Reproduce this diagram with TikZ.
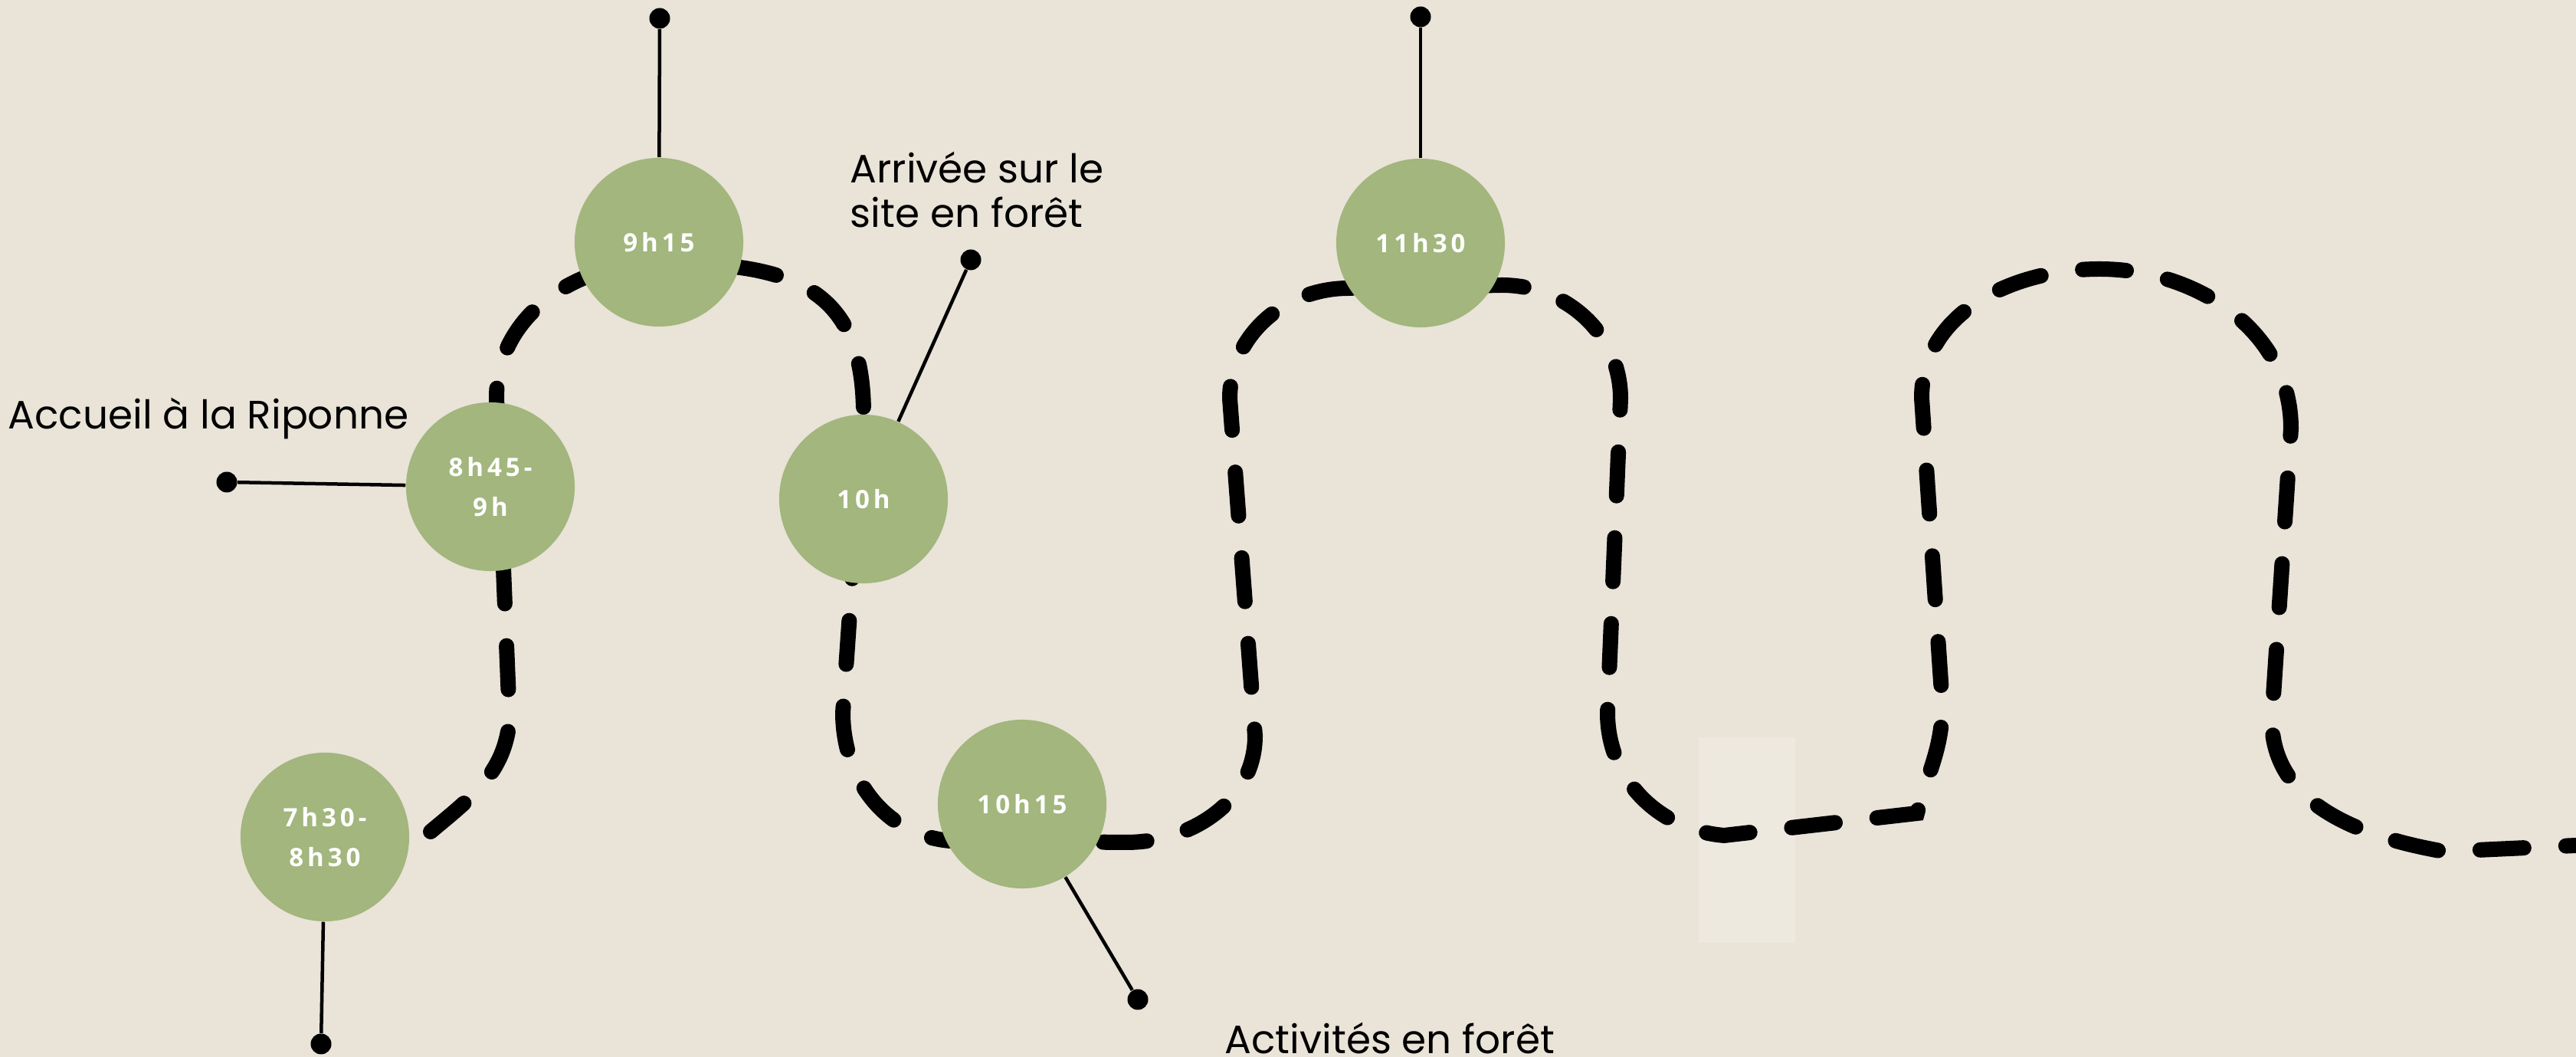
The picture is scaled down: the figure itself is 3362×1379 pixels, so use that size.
\documentclass[tikz,border=0pt]{standalone}
\usepackage{fontspec}
\setmainfont{Poppins}
\newfontfamily\heure[LetterSpace=15]{Open Sans}
\usepackage{tikz}
\usetikzlibrary{shapes,arrows,positioning}
\definecolor{papier}{HTML}{E9E3D8}
\definecolor{sauge}{HTML}{A2B67D}
\definecolor{tache}{HTML}{EEE9DF}
\tikzstyle{halte}=[circle, fill=sauge, minimum size=2.2cm, inner sep=0pt, text=white, font=\heure\bfseries\fontsize{9.4}{15}\selectfont, align=center]
\tikzstyle{bullet}=[circle, fill=black, minimum size=0.27cm, inner sep=0pt]
\tikzstyle{legende}=[font=\fontsize{14.7}{16.5}\selectfont, text=black, inner sep=0pt, align=left]
\tikzstyle{trail}=[line width=0.2cm, line cap=round, dash pattern=on 0.57cm off 0.55cm]
\tikzstyle{lien}=[line width=0.045cm]

\begin{document}
\begin{tikzpicture}[x=0.01cm, y=0.01cm]
    \fill[papier] (0,0) rectangle (3362,1379);
    \useasboundingbox (0,0) rectangle (3362,1379);
    \fill[tache] (2217,149) rectangle (2343,417);

    \draw[trail] (562,294) to[out=40,in=-95] (665,440) -- (648,860)
        to[out=90,in=180] (860,1036) to[out=0,in=90,looseness=1.3] (1127,839)
        -- (1100,449) to[out=-90,in=175] (1240,282) -- (1470,280)
        to[out=0,in=-90] (1638,419) -- (1605,859)
        to[out=90,in=180] (1760,1003) -- (1960,1007)
        to[out=0,in=90] (2115,859) -- (2098,449)
        to[out=-90,in=175] (2250,289) -- (2502,318)
        to[out=75,in=-90] (2535,460) -- (2508,860)
        to[out=90,in=180] (2740,1028) to[out=0,in=90] (2990,820)
        -- (2965,440) to[out=-90,in=170] (3190,268) -- (3362,276);

    \node (t730) [halte] at (424,287) {7h30-\\8h30};
    \node (t845) [halte] at (640,744) {8h45-\\9h};
    \node (t915) [halte] at (860,1063) {9h15};
    \node (t10) [halte] at (1127,728) {10h};
    \node (t1015) [halte] at (1334,330) {10h15};
    \node (t1130) [halte] at (1854,1062) {11h30};

    \node (d730) [bullet] at (419,17) {};
    \node (d845) [bullet] at (296,750) {};
    \node (d915) [bullet] at (861,1355) {};
    \node (d10) [bullet] at (1267,1040) {};
    \node (d1015) [bullet] at (1485,75) {};
    \node (d1130) [bullet] at (1854,1357) {};

    \node (accueil) [legende, anchor=base west] at (10,819) {Accueil à la Riponne};
    \node (arrivee) [legende, anchor=base west] at (1109,1082) {Arrivée sur le\\site en forêt};
    \node (activites) [legende, anchor=base west] at (1598,4) {Activités en forêt};

    \draw[lien] (t730) -- (d730);
    \draw[lien] (t845) -- (d845);
    \draw[lien] (t915) -- (d915);
    \draw[lien] (t10) -- (d10);
    \draw[lien] (t1015) -- (d1015);
    \draw[lien] (t1130) -- (d1130);
\end{tikzpicture}
\end{document}
